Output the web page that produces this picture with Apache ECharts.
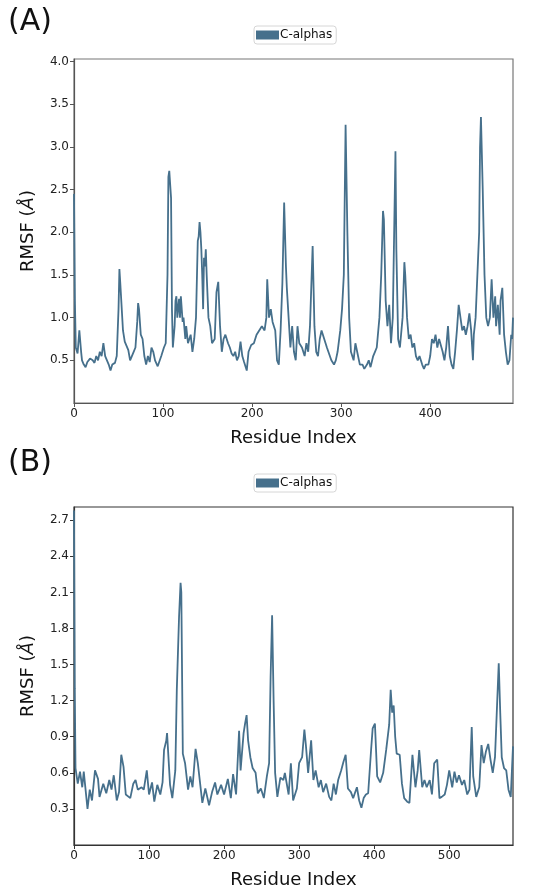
<!DOCTYPE html>
<html>
<head>
<meta charset="utf-8">
<script src="https://cdn.jsdelivr.net/npm/echarts@6/dist/echarts.min.js"></script>
<style>
  html, body { margin: 0; padding: 0; background: #fff; }
  #myChart { width: 550px; height: 894px; }
</style>
</head>
<body>
<div id="myChart"></div>
<script>
    /////////////////////////
    // (A) 残基位置 / RMSF
    var residuesA = [0,1,2,4,6,8,9,11,13,15,18,21,23,25,27,29,31,33,35,37,39,41,43,46,48,50,51,52,53,55,57,59,61,63,65,67,69,71,72,73,75,77,79,81,83,85,87,89,91,94,96,98,101,103,105,106,107,108,109,110,111,113,114,115,116,118,119,120,122,123,125,126,128,131,133,135,137,139,140,141,142,143,144,145,146,147,148,149,151,153,155,158,160,162,164,166,168,170,173,175,177,179,181,183,185,187,189,191,194,196,199,202,205,208,211,214,216,217,219,221,223,226,228,230,232,234,236,238,239,241,243,245,247,249,251,253,256,259,261,263,265,268,270,272,274,276,278,281,284,289,292,294,296,299,301,303,305,307,309,311,314,316,318,321,324,326,329,331,333,336,338,340,343,345,347,348,350,352,354,356,358,361,362,364,366,369,371,372,374,376,378,380,382,384,386,388,391,393,395,398,400,402,404,406,408,410,412,414,416,418,420,422,424,426,428,430,432,434,436,438,440,442,444,446,448,449,451,453,455,456,457,459,461,463,465,467,469,471,473,474,476,478,479,481,483,485,487,489,491,492,493];
    var rmsfA = [2.45,1.2,0.65,0.58,0.85,0.6,0.5,0.45,0.42,0.48,0.52,0.5,0.47,0.55,0.5,0.6,0.55,0.7,0.55,0.5,0.45,0.38,0.45,0.47,0.55,1.1,1.57,1.4,1.42,0.85,0.72,0.72,0.62,0.5,0.48,0.6,0.65,0.95,1.17,1.1,0.8,0.75,0.55,0.45,0.55,0.48,0.65,0.6,0.5,0.43,0.42,0.55,0.65,0.7,1.5,2.65,2.72,2.7,2.4,1.1,0.65,0.9,1.2,1.25,1.0,1.22,1.0,1.25,0.95,1.0,0.75,0.9,0.7,0.8,0.6,0.75,1.0,1.9,1.95,2.12,2.0,1.8,1.5,1.1,1.7,1.6,1.8,1.5,1.0,0.9,0.7,0.75,1.3,1.42,0.9,0.6,0.75,0.8,0.7,0.65,0.58,0.55,0.6,0.5,0.55,0.72,0.55,0.48,0.38,0.6,0.68,0.7,0.8,0.85,0.9,0.85,1.0,1.45,1.0,1.1,0.95,0.85,0.5,0.45,0.85,1.4,2.35,1.6,1.35,1.0,0.65,0.9,0.6,0.5,0.9,0.7,0.65,0.55,0.7,0.6,0.9,1.84,0.9,0.6,0.55,0.75,0.85,0.75,0.65,0.5,0.45,0.5,0.6,0.85,1.1,1.5,3.26,2.0,1.0,0.6,0.5,0.7,0.6,0.45,0.45,0.4,0.45,0.5,0.42,0.55,0.6,0.65,1.0,1.5,2.25,2.15,1.2,0.9,1.15,0.7,1.0,2.95,1.8,0.75,0.65,1.0,1.65,1.5,1.0,0.75,0.8,0.65,0.7,0.55,0.5,0.55,0.45,0.4,0.45,0.45,0.55,0.75,0.7,0.8,0.65,0.75,0.75,0.6,0.5,0.65,0.9,0.55,0.45,0.4,0.6,0.85,1.15,1.0,0.85,0.9,0.8,0.9,1.05,0.85,0.5,0.8,1.0,1.5,2.0,3.0,3.35,2.5,1.5,1.0,0.9,1.0,1.45,1.0,1.25,0.9,1.15,0.8,1.2,1.35,0.8,0.6,0.45,0.5,0.8,0.75,1.0];

    // (B)
    var residuesB = [0,1,2,5,8,11,13,18,21,24,28,32,34,39,43,47,50,53,57,60,63,66,69,75,79,82,85,90,93,97,100,104,107,111,115,118,120,123,124,128,131,135,137,140,142,143,145,148,152,155,158,162,165,171,175,180,184,188,191,196,200,205,209,212,216,220,222,226,228,230,232,235,238,242,245,249,253,257,260,262,264,266,268,271,275,279,281,286,289,292,297,300,304,307,309,312,316,319,322,326,329,332,336,340,343,346,349,352,356,359,362,365,369,372,377,380,383,386,389,392,396,398,401,404,408,412,416,420,422,424,426,428,430,434,437,440,444,447,451,455,458,460,464,467,470,474,477,480,484,487,490,494,497,500,504,507,510,513,517,520,524,527,530,532,536,540,543,546,549,552,555,558,561,564,566,568,570,573,576,579,582,585];
    var rmsfB = [2.78,1.3,0.64,0.51,0.61,0.48,0.61,0.3,0.46,0.37,0.62,0.55,0.4,0.51,0.43,0.54,0.46,0.58,0.37,0.44,0.75,0.65,0.42,0.39,0.51,0.54,0.46,0.48,0.46,0.62,0.42,0.52,0.36,0.5,0.42,0.52,0.79,0.87,0.93,0.5,0.39,0.62,1.29,1.9,2.18,2.1,0.76,0.68,0.46,0.57,0.48,0.8,0.68,0.35,0.47,0.33,0.44,0.52,0.42,0.5,0.42,0.55,0.39,0.59,0.42,0.95,0.62,0.93,1.01,1.08,0.87,0.73,0.64,0.6,0.43,0.47,0.39,0.57,0.68,1.4,1.91,1.2,0.6,0.4,0.56,0.54,0.6,0.42,0.68,0.37,0.47,0.68,0.73,0.96,0.83,0.6,0.87,0.54,0.62,0.48,0.54,0.44,0.51,0.4,0.37,0.51,0.42,0.54,0.62,0.69,0.75,0.47,0.44,0.39,0.48,0.37,0.31,0.39,0.42,0.43,0.8,0.97,1.01,0.57,0.52,0.6,0.79,1.0,1.29,1.1,1.16,0.9,0.76,0.75,0.51,0.39,0.36,0.35,0.75,0.48,0.62,0.79,0.48,0.54,0.48,0.54,0.42,0.68,0.71,0.39,0.4,0.42,0.5,0.62,0.48,0.61,0.52,0.58,0.5,0.54,0.42,0.46,0.98,0.57,0.4,0.48,0.83,0.68,0.78,0.84,0.71,0.6,0.73,1.2,1.51,1.1,0.73,0.64,0.62,0.46,0.4,0.82];

    var xTicksA = [0, 100, 200, 300, 400];
    var yTicksA = [0.5, 1.0, 1.5, 2.0, 2.5, 3.0, 3.5, 4.0];
    var xTicksB = [0, 100, 200, 300, 400, 500];
    var yTicksB = [0.3, 0.6, 0.9, 1.2, 1.5, 1.8, 2.1, 2.4, 2.7];

    var lineColor = '#46708c';
    var fontName = 'DejaVu Sans';

    /////////////////////////

    var myChart;

    init();

    function init() {
        myChart = echarts.init(document.getElementById('myChart'), null, {renderer: 'canvas'});
        myChart.setOption(makeOptions());
    }

    function zip(xs, ys) {
        var d = [];
        for (var i = 0, len = xs.length; i < len; i++) {
            d.push([xs[i], ys[i]]);
        }
        return d;
    }

    function makeXAxis(gridIndex, max, ticks, axisColor) {
        return {
            type: 'value',
            gridIndex: gridIndex,
            min: 0,
            max: max,
            name: 'Residue Index',
            nameLocation: 'middle',
            nameGap: 26,
            nameTextStyle: {fontFamily: fontName, fontSize: 18, color: '#111'},
            axisLine: {show: true, onZero: false, lineStyle: {color: axisColor, width: 1.2}},
            axisTick: {show: true, length: 4, customValues: ticks, lineStyle: {color: axisColor}},
            axisLabel: {customValues: ticks, fontFamily: fontName, fontSize: 12, color: '#222', margin: 5},
            splitLine: {show: false}
        };
    }

    function makeYAxis(gridIndex, max, ticks, axisColor) {
        return {
            type: 'value',
            gridIndex: gridIndex,
            min: 0,
            max: max,
            name: 'RMSF ({i|Å})',
            nameLocation: 'middle',
            nameGap: 37,
            nameRotate: 90,
            nameTextStyle: {
                fontFamily: fontName, fontSize: 18, color: '#111',
                rich: {i: {fontFamily: fontName, fontSize: 18, fontStyle: 'italic', color: '#111'}}
            },
            axisLine: {show: true, lineStyle: {color: axisColor, width: 1.2}},
            axisTick: {show: true, length: 4, customValues: ticks, lineStyle: {color: axisColor}},
            axisLabel: {
                customValues: ticks, fontFamily: fontName, fontSize: 12, color: '#222', margin: 5,
                formatter: function (v) { return v.toFixed(1); }
            },
            splitLine: {show: false}
        };
    }

    function makeLegend(top) {
        return {
            show: true,
            left: 254,
            top: top,
            icon: 'rect',
            itemWidth: 23,
            itemHeight: 9,
            padding: [3, 4, 3, 2],
            borderColor: '#d6d6d6',
            borderWidth: 1,
            borderRadius: 3,
            selectedMode: false,
            textStyle: {fontFamily: fontName, fontSize: 12, color: '#111', padding: [0, 0, 0, -4]},
            data: ['C-alphas']
        };
    }

    function makeOptions() {
        var option = {
            backgroundColor: '#fff',
            animation: false,
            title: [
                {text: '(A)', left: 3, top: 2, textStyle: {fontFamily: fontName, fontSize: 30, fontWeight: 'normal', color: '#111'}},
                {text: '(B)', left: 3, top: 443, textStyle: {fontFamily: fontName, fontSize: 30, fontWeight: 'normal', color: '#111'}}
            ],
            legend: [makeLegend(26), makeLegend(474)],
            grid: [
                {left: 74, top: 59, width: 439, height: 344, show: true, borderColor: '#777', borderWidth: 1.2, backgroundColor: 'transparent'},
                {left: 74, top: 507, width: 439, height: 338, show: true, borderColor: '#333', borderWidth: 1.2, backgroundColor: 'transparent'}
            ],
            xAxis: [
                makeXAxis(0, 493, xTicksA, '#555'),
                makeXAxis(1, 585, xTicksB, '#333')
            ],
            yAxis: [
                makeYAxis(0, 4.03, yTicksA, '#555'),
                makeYAxis(1, 2.81, yTicksB, '#333')
            ],
            series: [
                {
                    name: 'C-alphas', type: 'line', xAxisIndex: 0, yAxisIndex: 0,
                    showSymbol: false, symbol: 'none',
                    lineStyle: {color: lineColor, width: 1.8},
                    itemStyle: {color: lineColor},
                    data: zip(residuesA, rmsfA)
                },
                {
                    name: 'C-alphas', type: 'line', xAxisIndex: 1, yAxisIndex: 1,
                    showSymbol: false, symbol: 'none',
                    lineStyle: {color: lineColor, width: 1.8},
                    itemStyle: {color: lineColor},
                    data: zip(residuesB, rmsfB)
                }
            ]
        };
        return option;
    }
</script>
</body>
</html>
